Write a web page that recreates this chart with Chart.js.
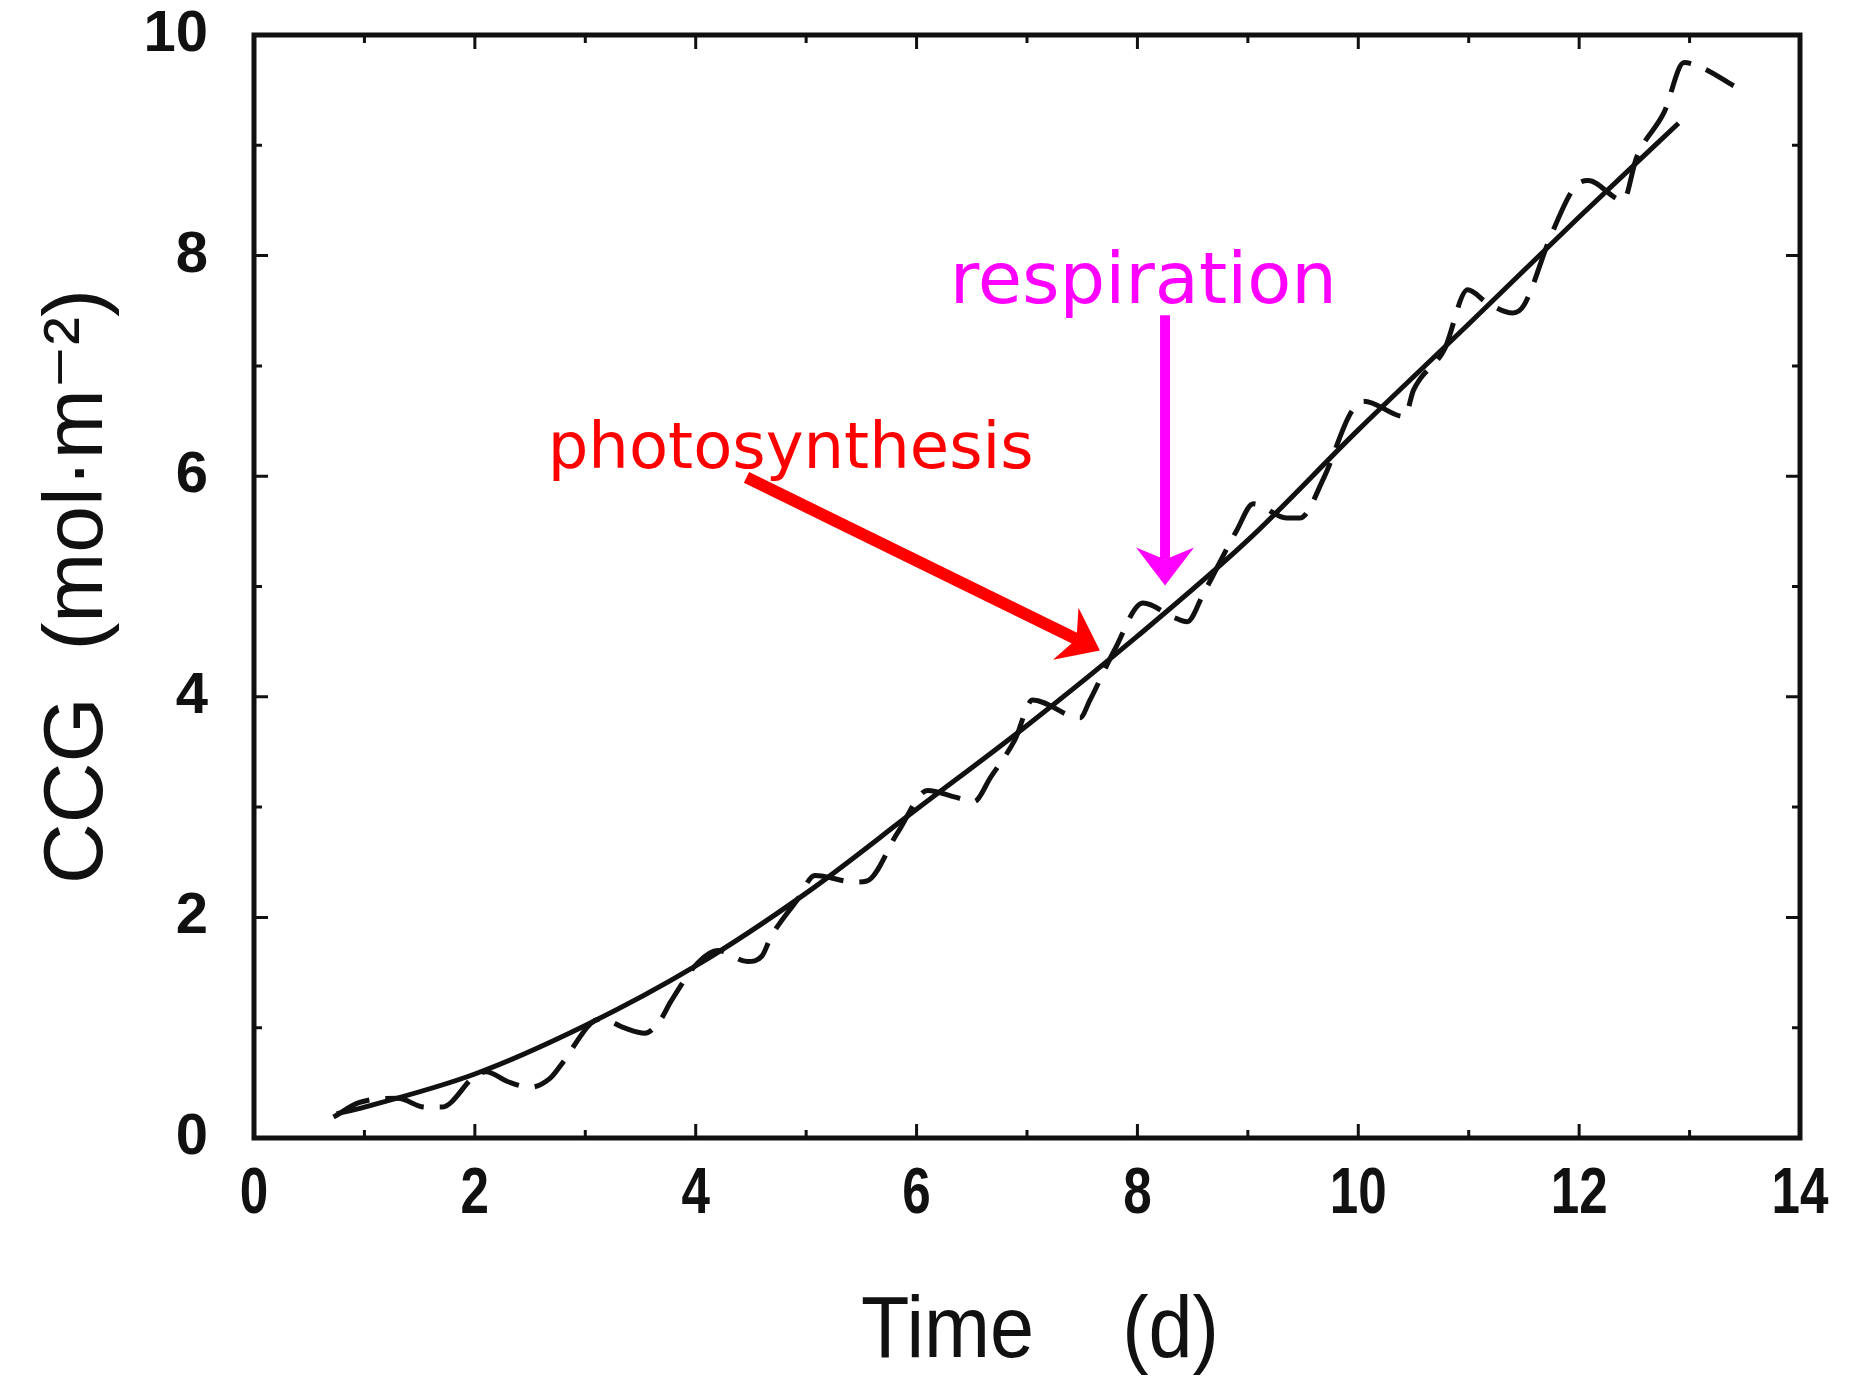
<!DOCTYPE html>
<html>
<head>
<meta charset="utf-8">
<script src="https://cdn.jsdelivr.net/npm/chart.js@4.4.1/dist/chart.umd.min.js"></script>
<style>
  html, body { margin: 0; padding: 0; background: #fff; }
  #wrap { width: 1855px; height: 1377px; }
</style>
</head>
<body>
<div id="wrap"><canvas id="ccgChart"></canvas></div>
<script>
// CCG over time
const smoothDays = [0.75, 1, 2, 3, 4, 5, 6, 7, 8, 9, 10, 11, 12, 12.9];
const smoothCCG  = [0.22, 0.28, 0.58, 1.02, 1.56, 2.22, 2.98, 3.74, 4.55, 5.42, 6.42, 7.38, 8.35, 9.2];

// day/night cycle: steep rise in daytime, small drop at night
const cycleDays = [0.72, 0.95, 1.3, 1.55, 1.7, 2.0, 2.1, 2.3, 2.5, 2.68, 2.8, 3.05, 3.15, 3.35, 3.54,
  3.68, 3.77, 4.02, 4.2, 4.47, 4.6, 4.68, 4.92, 5.08, 5.44, 5.55, 5.83, 6.1, 6.35, 6.52,
  6.67, 6.89, 7.05, 7.48, 7.57, 7.79, 8.05, 8.33, 8.45, 8.6, 8.9, 9.05, 9.35, 9.47, 9.69,
  9.93, 10.05, 10.42, 10.5, 10.78, 10.99, 11.17, 11.4, 11.5, 11.74, 11.96, 12.08, 12.4, 12.52, 12.77,
  12.95, 13.1, 13.4];
const cycleCCG = [0.19, 0.32, 0.36, 0.28, 0.28, 0.56, 0.6, 0.51, 0.46, 0.54, 0.69, 1.04, 1.08, 1.0, 0.95,
  1.07, 1.23, 1.59, 1.7, 1.6, 1.65, 1.82, 2.16, 2.38, 2.32, 2.33, 2.77, 3.15, 3.09, 3.05,
  3.27, 3.61, 3.97, 3.81, 3.97, 4.42, 4.85, 4.72, 4.68, 4.94, 5.51, 5.75, 5.62, 5.62, 5.99,
  6.57, 6.68, 6.54, 6.78, 7.15, 7.69, 7.57, 7.48, 7.55, 8.17, 8.62, 8.68, 8.5, 8.89, 9.3,
  9.75, 9.71, 9.54];

const xTickValues = [0, 2, 4, 6, 8, 10, 12, 14];
const yTickValues = [0, 2, 4, 6, 8, 10];
const xTitle = 'Time    (d)';

// annotation anchors in data units
const photoLabel = { text: 'photosynthesis', x: 2.66, y: 6.07 };
const photoArrow = { x0: 4.46, y0: 5.99, x1: 7.66, y1: 4.42 };
const respLabel  = { text: 'respiration', x: 6.30, y: 7.57 };
const respArrow  = { x0: 8.25, y0: 7.46, x1: 8.25, y1: 5.01 };

const INK = '#111';

function toPoints(xs, ys) {
  return xs.map((x, i) => ({ x: x, y: ys[i] }));
}

// the original axis lettering is a condensed face, squeeze it horizontally
function fillSqueezed(ctx, text, x, y, sx) {
  ctx.save();
  ctx.translate(x, y);
  ctx.scale(sx, 1);
  ctx.fillText(text, 0, 0);
  ctx.restore();
}

function drawArrow(ctx, x0, y0, x1, y1, color, shaft) {
  const dx = x1 - x0, dy = y1 - y0;
  const len = Math.hypot(dx, dy);
  const ux = dx / len, uy = dy / len;
  const px = -uy, py = ux;
  const back = 38, notch = 26, half = 29;
  ctx.save();
  ctx.strokeStyle = color;
  ctx.fillStyle = color;
  ctx.lineWidth = shaft;
  ctx.beginPath();
  ctx.moveTo(x0, y0);
  ctx.lineTo(x1 - ux * notch, y1 - uy * notch);
  ctx.stroke();
  ctx.beginPath();
  ctx.moveTo(x1, y1);
  ctx.lineTo(x1 - ux * back + px * half, y1 - uy * back + py * half);
  ctx.lineTo(x1 - ux * notch, y1 - uy * notch);
  ctx.lineTo(x1 - ux * back - px * half, y1 - uy * back - py * half);
  ctx.closePath();
  ctx.fill();
  ctx.restore();
}

const framePlugin = {
  id: 'frame',
  afterDatasetsDraw(chart) {
    const { ctx, chartArea: a, scales: { x, y } } = chart;
    ctx.save();
    ctx.strokeStyle = INK;
    ctx.lineWidth = 5;
    ctx.strokeRect(a.left, a.top, a.right - a.left, a.bottom - a.top);
    ctx.lineWidth = 3;
    ctx.beginPath();
    for (let d = 1; d < 14; d++) {
      const p = x.getPixelForValue(d);
      const len = d % 2 ? 8 : 14;
      ctx.moveTo(p, a.bottom); ctx.lineTo(p, a.bottom - len);
      ctx.moveTo(p, a.top); ctx.lineTo(p, a.top + len);
    }
    for (let v = 1; v < 10; v++) {
      const p = y.getPixelForValue(v);
      const len = v % 2 ? 8 : 14;
      ctx.moveTo(a.left, p); ctx.lineTo(a.left + len, p);
      ctx.moveTo(a.right, p); ctx.lineTo(a.right - len, p);
    }
    ctx.stroke();
    ctx.restore();
  },
  afterDraw(chart) {
    const { ctx, chartArea: a, scales: { x, y } } = chart;
    ctx.save();
    // x axis labels and title
    ctx.fillStyle = INK;
    ctx.textAlign = 'center';
    ctx.textBaseline = 'alphabetic';
    ctx.font = 'bold 64px "Liberation Sans", Arial, sans-serif';
    xTickValues.forEach(v => fillSqueezed(ctx, String(v), x.getPixelForValue(v), a.bottom + 75, 0.8));
    ctx.font = '88px "Liberation Sans", Arial, sans-serif';
    fillSqueezed(ctx, xTitle, (a.left + a.right) / 2 + 13, a.bottom + 219, 0.9);

    // annotations
    ctx.textAlign = 'left';
    ctx.fillStyle = '#ff0000';
    ctx.font = '64px "DejaVu Sans"';
    ctx.fillText(photoLabel.text, x.getPixelForValue(photoLabel.x), y.getPixelForValue(photoLabel.y));
    ctx.fillStyle = '#ff00ff';
    ctx.font = '72px "DejaVu Sans"';
    ctx.fillText(respLabel.text, x.getPixelForValue(respLabel.x), y.getPixelForValue(respLabel.y));
    ctx.restore();
    drawArrow(ctx, x.getPixelForValue(photoArrow.x0), y.getPixelForValue(photoArrow.y0),
      x.getPixelForValue(photoArrow.x1), y.getPixelForValue(photoArrow.y1), '#ff0000', 12);
    drawArrow(ctx, x.getPixelForValue(respArrow.x0), y.getPixelForValue(respArrow.y0),
      x.getPixelForValue(respArrow.x1), y.getPixelForValue(respArrow.y1), '#ff00ff', 10);
  }
};

const ctx = document.getElementById('ccgChart');
const ccgChart = new Chart(ctx, {
  type: 'line',
  data: {
    datasets: [
      {
        label: 'smooth',
        data: toPoints(smoothDays, smoothCCG),
        borderColor: INK,
        borderWidth: 5,
        pointRadius: 0,
        cubicInterpolationMode: 'monotone'
      },
      {
        label: 'day/night',
        data: toPoints(cycleDays, cycleCCG),
        borderColor: INK,
        borderWidth: 5,
        borderDash: [40, 16],
        pointRadius: 0,
        cubicInterpolationMode: 'monotone'
      }
    ]
  },
  options: {
    responsive: true,
    maintainAspectRatio: false,
    animation: false,
    layout: { padding: { top: 35, right: 55, left: 0, bottom: 0 } },
    plugins: {
      legend: { display: false },
      tooltip: { enabled: false }
    },
    scales: {
      x: {
        type: 'linear',
        min: 0,
        max: 14,
        afterFit: (scale) => {
          scale.height = 239;
          scale.paddingLeft = 0;
          scale.paddingRight = 0;
        },
        afterBuildTicks: (scale) => { scale.ticks = xTickValues.map(v => ({ value: v })); },
        grid: { display: false },
        border: { display: false },
        ticks: { display: false }
      },
      y: {
        min: 0,
        max: 10,
        afterFit: (scale) => {
          scale.width = 254;
          scale.paddingTop = 0;
          scale.paddingBottom = 0;
        },
        afterBuildTicks: (scale) => { scale.ticks = yTickValues.map(v => ({ value: v })); },
        grid: { display: false },
        border: { display: false },
        ticks: {
          color: INK,
          padding: 38,
          font: { family: '"Liberation Sans", Arial, sans-serif', size: 58, weight: 'bold' }
        },
        title: {
          display: true,
          text: 'CCG  (mol·m⁻²)',
          color: INK,
          padding: { top: 37, bottom: 0 },
          font: { family: '"Liberation Sans", "DejaVu Sans", sans-serif', size: 84, lineHeight: 1 }
        }
      }
    }
  },
  plugins: [framePlugin]
});
</script>
</body>
</html>
